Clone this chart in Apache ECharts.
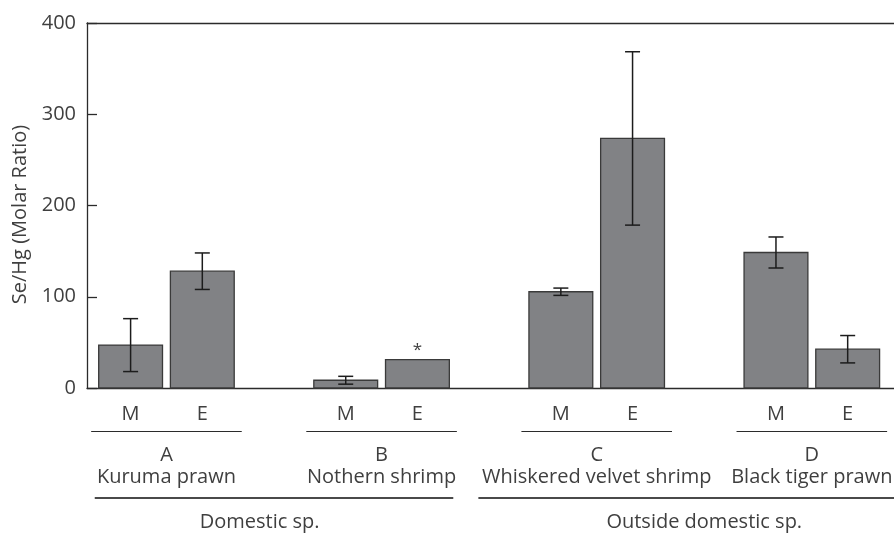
<!DOCTYPE html>
<html>
<head>
<meta charset="utf-8">
<script src="https://cdn.jsdelivr.net/npm/echarts@6/dist/echarts.min.js"></script>
<style>
  html, body { margin: 0; padding: 0; background: #fff; }
  #chart { width: 894px; height: 535px; }
</style>
</head>
<body>
<div id="chart"></div>
<script>
// Se/Hg molar ratio in muscle (M) and exoskeleton (E) of four shrimp species
const subLabels = ['M', 'E'];
const groupLetters = ['A', 'B', 'C', 'D'];
const groupNames = ['Kuruma prawn', 'Nothern shrimp', 'Whiskered velvet shrimp', 'Black tiger prawn'];
const originNames = ['Domestic sp.', 'Outside domestic sp.'];
const originGroups = [[0, 1], [2, 3]];
const meanM = [47, 8.5, 105.5, 148.5];
const sdM = [29, 4.3, 4, 17];
const meanE = [128, 31, 273.5, 42.5];
const sdE = [20, 0, 95, 15];
const markE = ['', '*', '', ''];
const yTicks = [0, 100, 200, 300, 400];

const FONT = '"Open Sans", "Noto Sans", sans-serif';
const TEXT = '#3f3f3f';
const LINE = '#2b2b2b';
const FS = 20;

// each group takes two bar slots followed by one empty slot
const slotOf = (g, s) => g * 3 + s;

const barData = [];
groupLetters.forEach((_, g) => {
  barData.push([slotOf(g, 0), meanM[g], sdM[g], subLabels[0], '']);
  barData.push([slotOf(g, 1), meanE[g], sdE[g], subLabels[1], markE[g]]);
});
const groupData = groupLetters.map((l, g) => [slotOf(g, 0) + 0.5, 0, l, groupNames[g]]);
const originData = originNames.map((n, o) => {
  const gs = originGroups[o];
  return [slotOf(gs[0], 0), slotOf(gs[gs.length - 1], 1), n, o];
});

const crisp = y => Math.round(y) + 0.5;

function renderBar(params, api) {
  const x = api.value(0), v = api.value(1), sd = api.value(2);
  const base = api.coord([x, 0]);
  const top = api.coord([x, v]);
  const w = api.size([1, 0])[0] * 0.89;
  const children = [{
    type: 'rect',
    shape: { x: base[0] - w / 2, y: top[1], width: w, height: base[1] - top[1] },
    style: { fill: '#818285', stroke: '#3a3a3a', lineWidth: 1.3 }
  }];
  if (sd > 0) {
    const hi = api.coord([x, v + sd])[1], lo = api.coord([x, v - sd])[1];
    const cap = 7.5;
    const st = { stroke: '#1c1c1c', lineWidth: 1.5 };
    children.push(
      { type: 'line', shape: { x1: base[0], y1: hi, x2: base[0], y2: lo }, style: st },
      { type: 'line', shape: { x1: base[0] - cap, y1: hi, x2: base[0] + cap, y2: hi }, style: st },
      { type: 'line', shape: { x1: base[0] - cap, y1: lo, x2: base[0] + cap, y2: lo }, style: st }
    );
  }
  const mark = api.value(4);
  if (mark) {
    children.push({
      type: 'text', x: base[0], y: top[1] - 10,
      style: { text: mark, font: '17px ' + FONT, fill: TEXT, align: 'center', verticalAlign: 'middle' }
    });
  }
  children.push({
    type: 'text', x: base[0], y: base[1] + 26,
    style: { text: api.value(3), font: FS + 'px ' + FONT, fill: TEXT, align: 'center', verticalAlign: 'middle' }
  });
  return { type: 'group', children };
}

function renderGroup(params, api) {
  const c = api.coord([api.value(0), 0]);
  const half = api.size([1, 0])[0] * 1.05;
  const ly = crisp(c[1] + 43);
  const txt = (t, dy) => ({
    type: 'text', x: c[0], y: c[1] + dy,
    style: { text: t, font: FS + 'px ' + FONT, fill: TEXT, align: 'center', verticalAlign: 'middle' }
  });
  return {
    type: 'group',
    children: [
      { type: 'line', shape: { x1: c[0] - half, y1: ly, x2: c[0] + half, y2: ly },
        style: { stroke: LINE, lineWidth: 1.2 } },
      txt(api.value(2), 67),
      txt(api.value(3), 89)
    ]
  };
}

// line extents (in slots) and label nudge for the two origin brackets
const originSpan = [[-0.5, 0.5, -0.2], [-1.15, 1.2, 0]];
function renderOrigin(params, api) {
  const o = api.value(3);
  const sp = originSpan[o];
  const a = api.coord([api.value(0) + sp[0], 0]);
  const b = api.coord([api.value(1) + sp[1], 0]);
  const mid = api.coord([(api.value(0) + api.value(1)) / 2 + sp[2], 0]);
  const ly = Math.round(a[1] + 110);
  return {
    type: 'group',
    children: [
      { type: 'line', shape: { x1: a[0], y1: ly, x2: b[0], y2: ly },
        style: { stroke: '#4a4a4a', lineWidth: 2 } },
      { type: 'text', x: mid[0], y: a[1] + 134,
        style: { text: api.value(2), font: FS + 'px ' + FONT, fill: TEXT, align: 'center', verticalAlign: 'middle' } }
    ]
  };
}

const chart = echarts.init(document.getElementById('chart'), null, { renderer: 'canvas' });
chart.setOption({
  animation: false,
  backgroundColor: '#ffffff',
  grid: { left: 87, right: 0, top: 23, bottom: 147, outerBoundsMode: 'none', containLabel: false },
  xAxis: [{
    type: 'value', min: -0.608, max: 10.646,
    axisLine: { show: true, onZero: false, lineStyle: { color: LINE, width: 1.3 } },
    axisTick: { show: false }, axisLabel: { show: false }, splitLine: { show: false }
  }, {
    type: 'value', position: 'top', min: -0.608, max: 10.646,
    axisLine: { show: true, onZero: false, lineStyle: { color: LINE, width: 1.3 } },
    axisTick: { show: false }, axisLabel: { show: false }, splitLine: { show: false }
  }],
  yAxis: {
    type: 'value', min: yTicks[0], max: yTicks[yTicks.length - 1], interval: 100,
    name: 'Se/Hg (Molar Ratio)', nameLocation: 'middle', nameGap: 54,
    nameTextStyle: { fontFamily: FONT, fontSize: 20, color: TEXT, padding: [0, 18, 0, 0] },
    axisLine: { show: true, onZero: false, lineStyle: { color: LINE, width: 1.3 } },
    axisTick: { show: true, inside: true, length: 10, lineStyle: { color: LINE, width: 1.3 } },
    axisLabel: { margin: 11, fontFamily: FONT, fontSize: FS, color: TEXT },
    splitLine: { show: false }
  },
  series: [
    { type: 'custom', renderItem: renderBar, data: barData, clip: false,
      encode: { x: 0, y: 1 }, silent: true },
    { type: 'custom', renderItem: renderGroup, data: groupData, clip: false,
      encode: { x: 0, y: 1 }, silent: true },
    { type: 'custom', renderItem: renderOrigin, data: originData, clip: false,
      encode: { x: 0, y: 1 }, silent: true }
  ]
});
</script>
</body>
</html>
